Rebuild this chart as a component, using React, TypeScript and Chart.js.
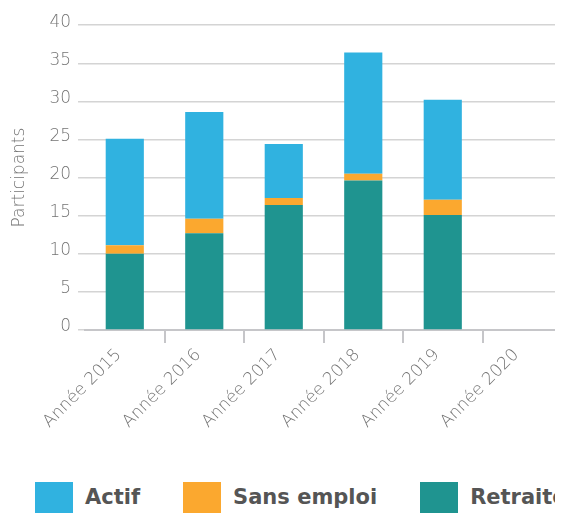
import React, { useEffect, useRef } from "react";
import { Chart, registerables } from "chart.js";

Chart.register(...registerables);

const categories = ["Année 2015", "Année 2016", "Année 2017", "Année 2018", "Année 2019", "Année 2020"];
const seriesNames = ["Actif", "Sans emploi", "Retraité"];
const actif = [14, 14.0, 7.1, 15.9, 13.1, null];
const sansEmploi = [1.1, 1.9, 0.9, 0.9, 2.0, null];
const retraite = [10, 12.7, 16.4, 19.6, 15.1, null];
const seriesColors = ["#30b2e0", "#fba82f", "#1f9490"];
const yMin = 0;
const yMax = 40;
const yStep = 5;
const yTitle = "Participants";

const tickFont = { family: "'DejaVu Sans', sans-serif", size: 17, weight: "200" as any };
const tickColor = "#747474";
const gridColor = "#d4d4d4";
const axisColor = "#c6c6c9";

export default function App() {
  const ref = useRef<HTMLCanvasElement>(null);

  useEffect(() => {
    if (!ref.current) return;
    const chart = new Chart(ref.current, {
      type: "bar",
      data: {
        labels: categories,
        datasets: [
          { label: seriesNames[2], data: retraite, backgroundColor: seriesColors[2] },
          { label: seriesNames[1], data: sansEmploi, backgroundColor: seriesColors[1] },
          { label: seriesNames[0], data: actif, backgroundColor: seriesColors[0] },
        ],
      },
      options: {
        animation: false,
        responsive: true,
        maintainAspectRatio: false,
        layout: { padding: { top: 6, right: 0, bottom: 0, left: 0 } },
        datasets: { bar: { categoryPercentage: 0.8, barPercentage: 0.6 } },
        plugins: { legend: { display: false }, tooltip: { enabled: false } },
        scales: {
          x: {
            stacked: true,
            grid: {
              offset: true,
              drawOnChartArea: false,
              drawTicks: true,
              tickLength: 13,
              lineWidth: 2,
              color: (c: any) => (c.index === 0 ? "rgba(0,0,0,0)" : axisColor),
            },
            border: { display: true, color: axisColor, width: 2 },
            ticks: {
              minRotation: 45,
              maxRotation: 45,
              font: tickFont,
              color: tickColor,
              padding: 2,
              labelOffset: -6,
            },
          },
          y: {
            stacked: true,
            min: yMin,
            max: yMax,
            ticks: { stepSize: yStep, font: tickFont, color: tickColor, padding: 7, labelOffset: -3 },
            grid: { color: gridColor, lineWidth: 1.5, tickLength: 7 },
            border: { display: false },
            title: {
              display: true,
              text: yTitle,
              font: tickFont,
              color: tickColor,
              padding: { top: 1, bottom: 13 },
            },
          },
        },
      },
    });
    return () => chart.destroy();
  }, []);

  const legendItems = [0, 1, 2];

  return (
    <div style={{ position: "relative", width: 555, height: 506, overflow: "hidden" }}>
      <style>{"html,body{overflow:hidden;}"}</style>
      <div style={{ position: "absolute", left: 0, top: 0, width: 554, height: 426 }}>
        <canvas ref={ref} />
      </div>
      <div
        style={{
          position: "absolute",
          left: 27,
          top: 474,
          display: "flex",
          alignItems: "center",
          whiteSpace: "nowrap",
          fontFamily: "'DejaVu Sans', sans-serif",
          fontWeight: 700,
          fontSize: 21,
          color: "#555555",
        }}
      >
        {legendItems.map((i) => (
          <div key={i} style={{ display: "flex", alignItems: "center", marginRight: 43 }}>
            <div style={{ width: 38, height: 31, background: seriesColors[i], marginRight: 12 }} />
            <span style={{ lineHeight: "31px" }}>{seriesNames[i]}</span>
          </div>
        ))}
      </div>
    </div>
  );
}
